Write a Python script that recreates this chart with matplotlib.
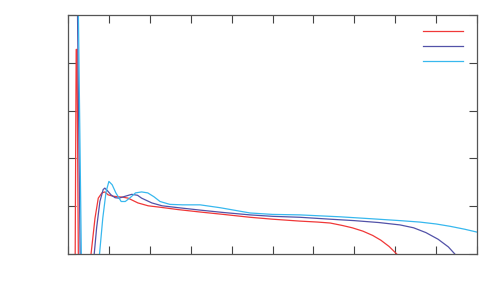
import numpy as np
import matplotlib
matplotlib.use('Agg')
import matplotlib.pyplot as plt

# curve samples (x: 0..10, y: 0..5)
red_x = [0.0, 0.17, 0.20, 0.22, 0.26, 0.40, 0.55, 0.66, 0.74, 0.83, 0.90, 0.98, 1.10, 1.22, 1.34, 1.47, 1.71, 1.96, 2.25, 2.70, 3.23, 3.80, 4.45, 5.00, 5.67, 6.10, 6.41, 6.70, 6.95, 7.21, 7.45, 7.65, 7.85, 8.04, 8.20]
red_y = [-1.0, -1.0, 4.28, 4.28, -1.0, -1.0, -0.1, 0.75, 1.17, 1.28, 1.30, 1.24, 1.21, 1.20, 1.19, 1.17, 1.07, 1.01, 0.98, 0.93, 0.88, 0.83, 0.77, 0.73, 0.69, 0.67, 0.65, 0.60, 0.55, 0.48, 0.39, 0.29, 0.16, 0.0, -0.2]

blue_x = [0.0, 0.22, 0.31, 0.50, 0.63, 0.70, 0.78, 0.86, 0.90, 0.97, 1.05, 1.15, 1.25, 1.40, 1.56, 1.70, 1.80, 2.05, 2.30, 2.70, 3.23, 3.80, 4.45, 5.00, 5.67, 6.41, 7.00, 7.60, 8.12, 8.45, 8.75, 9.05, 9.30, 9.46, 9.60]
blue_y = [6.0, 6.0, -1.0, -1.0, -0.1, 0.55, 1.10, 1.35, 1.38, 1.32, 1.24, 1.18, 1.17, 1.21, 1.25, 1.23, 1.17, 1.07, 1.01, 0.97, 0.92, 0.87, 0.82, 0.79, 0.77, 0.73, 0.70, 0.66, 0.61, 0.55, 0.45, 0.31, 0.15, 0.0, -0.2]

cyan_x = [0.0, 0.24, 0.34, 0.60, 0.76, 0.85, 0.93, 1.00, 1.08, 1.17, 1.30, 1.40, 1.52, 1.65, 1.80, 1.95, 2.10, 2.25, 2.49, 2.80, 3.23, 3.72, 4.45, 5.00, 5.67, 6.65, 7.40, 8.12, 8.60, 9.00, 9.35, 9.70, 10.0]
cyan_y = [6.0, 6.0, -1.0, -1.0, -0.1, 0.75, 1.30, 1.52, 1.45, 1.28, 1.10, 1.10, 1.18, 1.28, 1.30, 1.28, 1.20, 1.10, 1.04, 1.03, 1.03, 0.97, 0.86, 0.83, 0.82, 0.78, 0.74, 0.70, 0.67, 0.63, 0.58, 0.52, 0.46]

series = [(red_x, red_y, '#f03838'), (blue_x, blue_y, '#5252a8'), (cyan_x, cyan_y, '#38b8ee')]

fig = plt.figure(figsize=(5, 3), dpi=100)
ax = fig.add_axes([0.136, 0.153, 0.818, 0.797])

for xs, ys, col in series:
    ax.plot(xs, ys, color=col, lw=0.9, label=' ')

ax.set_xlim(0, 10)
ax.set_ylim(0, 5)
ax.set_xticks(np.arange(0, 11, 1))
ax.set_yticks(np.arange(0, 6, 1))
ax.set_xticklabels([])
ax.set_yticklabels([])
ax.tick_params(direction='in', length=6, width=0.8, color='#444444', top=True, right=True)
for sp in ax.spines.values():
    sp.set_color('#555555')
    sp.set_linewidth(0.9)

ax.legend(loc='upper right', frameon=False, handlelength=2.9, fontsize=10,
          labelspacing=0.05, handletextpad=0.0, borderaxespad=0.0,
          bbox_to_anchor=(0.99, 0.98))

fig.savefig('out.png', dpi=100)
